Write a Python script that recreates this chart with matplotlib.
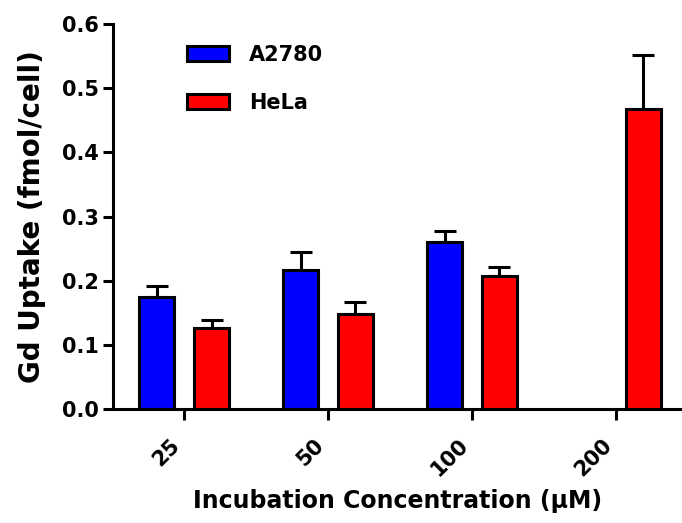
import numpy as np
import matplotlib.pyplot as plt

# Gd uptake per cell at each incubation concentration
concentrations = ["25", "50", "100", "200"]
a2780_mean = [0.175, 0.216, 0.261, np.nan]
a2780_err = [0.017, 0.029, 0.017, 0.0]
hela_mean = [0.126, 0.148, 0.207, 0.468]
hela_err = [0.012, 0.018, 0.014, 0.084]

plt.rcParams['font.family'] = ['DejaVu Sans']
plt.rcParams['font.weight'] = 'bold'

fig = plt.figure(figsize=(6.82, 5.23), dpi=100)
ax = fig.add_axes([0.166, 0.218, 0.834, 0.736])

x = np.arange(len(concentrations))
width = 0.243
offset = 0.19
lw = 2.2

ax.bar(x - offset, a2780_mean, width, color="#0000ff", edgecolor="black",
       linewidth=lw, label="A2780", zorder=2)
ax.bar(x + offset, hela_mean, width, color="#ff0000", edgecolor="black",
       linewidth=lw, label="HeLa", zorder=2)

# upper error bars only
ax.errorbar(x - offset, a2780_mean, yerr=[np.zeros(4), a2780_err], fmt="none",
            ecolor="black", elinewidth=2.2, capsize=8, capthick=2.2, zorder=1)
ax.errorbar(x + offset, hela_mean, yerr=[np.zeros(4), hela_err], fmt="none",
            ecolor="black", elinewidth=2.2, capsize=8, capthick=2.2, zorder=1)

ax.set_xlim(-0.493, 3.458)
ax.set_ylim(0, 0.6)
ax.set_yticks(np.arange(0, 0.61, 0.1))
ax.set_yticklabels([f"{v:.1f}" for v in np.arange(0, 0.61, 0.1)])
ax.set_xticks(x)
ax.set_xticklabels(concentrations, rotation=45, ha="right")

for side in ["top", "right"]:
    ax.spines[side].set_visible(False)
for side in ["left", "bottom"]:
    ax.spines[side].set_linewidth(2.2)

ax.tick_params(axis="y", length=7, width=2.2, labelsize=15, pad=3)
ax.tick_params(axis="x", length=8, width=2.2, labelsize=15, pad=11)

ax.set_ylabel("Gd Uptake (fmol/cell)", fontsize=20, fontweight="bold", labelpad=12)
ax.set_xlabel("Incubation Concentration (\u03bcM)", fontsize=17, fontweight="bold", labelpad=6)

ax.legend(loc="upper left", bbox_to_anchor=(0.274, 0.914), bbox_transform=fig.transFigure,
          frameon=False, fontsize=15, handlelength=2.0, handleheight=0.75,
          handletextpad=1.0, labelspacing=1.35, borderpad=0, borderaxespad=0)

fig.savefig("out.png", dpi=100)
